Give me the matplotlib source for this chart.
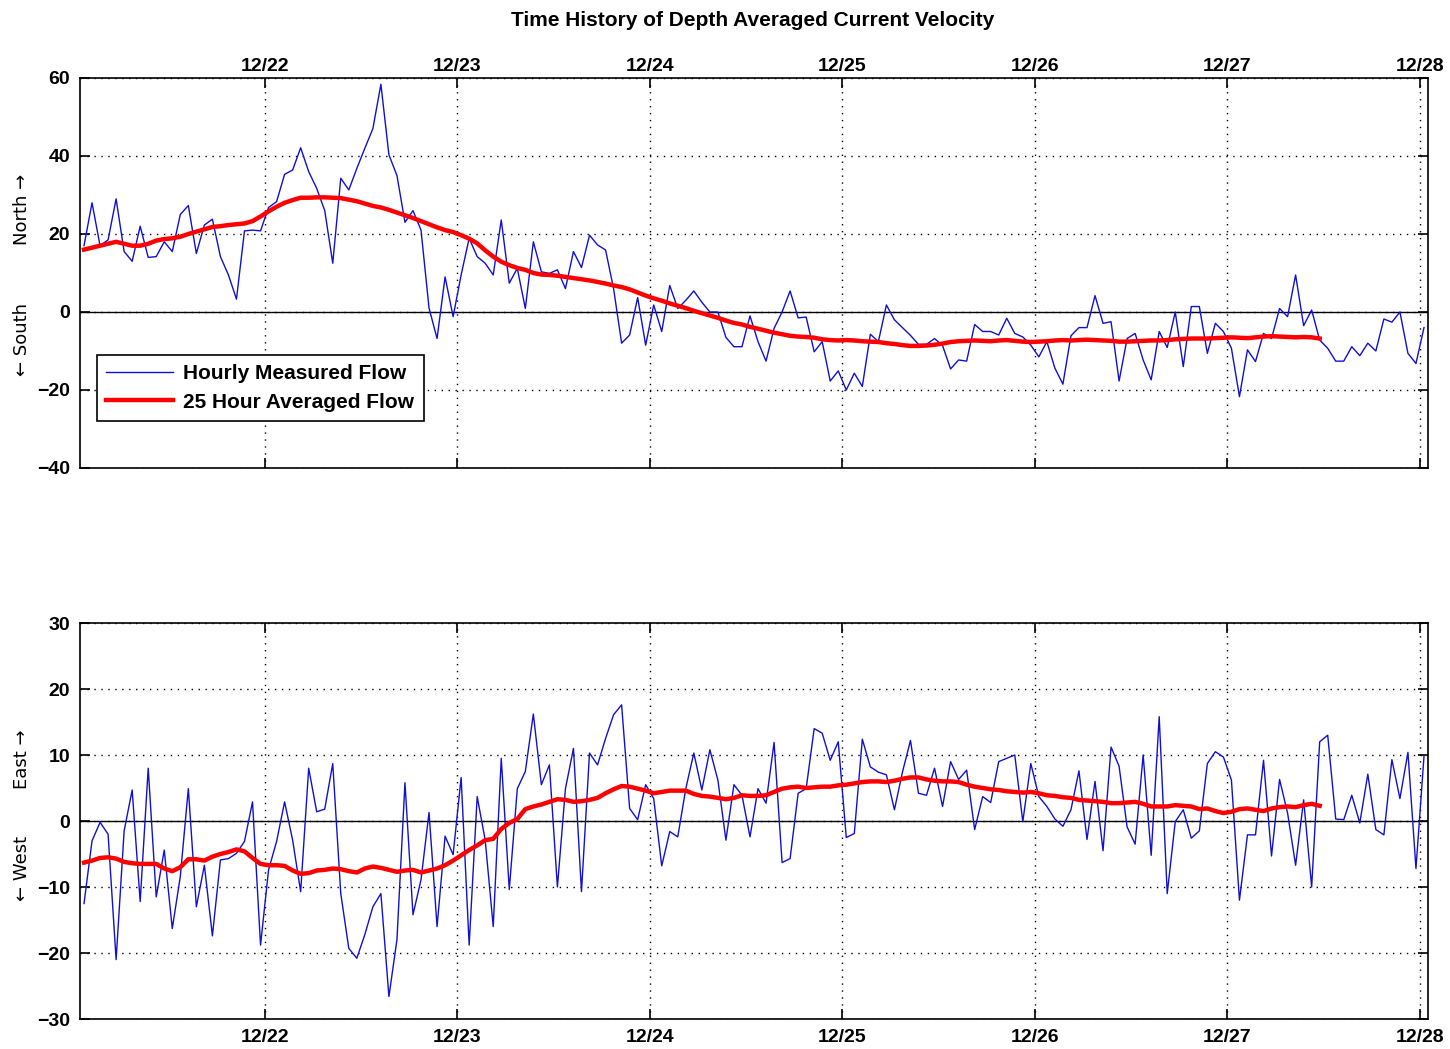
import pandas as pd
import numpy as np
import matplotlib
matplotlib.use('Agg')
import matplotlib.pyplot as plt
import matplotlib.dates as mdates

plt.rcParams['font.family'] = ['Liberation Sans', 'DejaVu Sans']

# ---------------- data: hourly depth averaged current (cm/s) ----------------
start = '2010-12-21 01:30'

# north (+) / south (-) component, hourly
north_hourly = [17, 28, 17, 18.5, 29, 15.5, 13, 22, 14, 14.2,
                18, 15.5, 25, 27.3, 15, 22.3, 23.8, 14.2, 9.5, 3.3,
                20.8, 21, 20.8, 26.8, 28.3, 35.3, 36.4, 42.1,
                36, 31.7, 26, 12.5, 34.3, 31.3, 36.8, 42, 47, 58.4,
                40.3, 35, 23, 26, 21, 1, -6.8, 9, -1.2, 9.5,
                18.9, 14.2, 12.5, 9.5, 23.6, 7.4, 11.2, 0.9,
                18, 10.3, 9.9, 10.8, 6, 15.5, 11.4, 19.7, 17.2, 15.9,
                6, -8, -5.9, 3.7, -8.5, 1.8, -5, 6.8, 0.9, 3,
                5.4, 2.5, 0, 0, -6.5, -8.9, -8.9, -1,
                -7.6, -12.6, -4.2, 0, 5.4, -1.5, -1.3, -10.2, -7.6, -17.7,
                -15.1, -20, -15.7, -19.1, -5.7, -7.6, 1.8, -2, -4, -6,
                -8.3, -8.3, -6.8, -8.6, -14.6, -12.3, -12.6, -3.2,
                -5, -5, -5.9, -1.6, -5.5, -6.4, -8.5, -11.5, -7.6, -14.4,
                -18.5, -6.1, -4, -4, 4.2, -2.9, -2.5, -17.7, -6.8, -5.5,
                -12.3, -17.4, -5, -9.1, 0, -14, 1.4, 1.4,
                -10.6, -2.9, -5, -9.3, -21.7, -9.7, -12.7, -5.5, -6.8, 0.9,
                -1.2, 9.5, -3.5, 0.5, -7.2, -9.3, -12.6, -12.6, -8.9, -11.2,
                -8, -10, -1.8, -2.6, 0, -10.6, -13.2, -4]

# 25 hour running mean of the north component
north_avg = [16.0, 16.5, 17.0, 17.5, 18.0, 17.5, 17.0, 17.0, 17.5, 18.3,
             18.7, 18.9, 19.3, 20.0, 20.6, 21.2, 21.8, 22.0, 22.3, 22.5,
             22.7, 23.3, 24.5, 25.8, 27.0, 28.0, 28.7, 29.3,
             29.3, 29.4, 29.4, 29.3, 29.2, 28.8, 28.4, 27.8, 27.2, 26.8,
             26.2, 25.5, 24.8, 24.1, 23.3, 22.5, 21.7, 21.0, 20.5, 19.7,
             18.8, 17.6, 15.8, 14.2, 12.9, 12.0, 11.3, 10.8,
             10.0, 9.6, 9.5, 9.3, 9.0, 8.7, 8.4, 8.1, 7.7, 7.3,
             6.8, 6.4, 5.8, 5.0, 4.2, 3.5, 2.9, 2.2, 1.6, 1.0,
             0.3, -0.3, -0.9, -1.5, -2.2, -2.8, -3.2, -3.8,
             -4.3, -4.8, -5.3, -5.7, -6.1, -6.3, -6.4, -6.6, -7.0, -7.2,
             -7.3, -7.2, -7.3, -7.5, -7.6, -7.7, -8.0, -8.2, -8.5, -8.7,
             -8.7, -8.6, -8.4, -8.1, -7.7, -7.5, -7.4, -7.3,
             -7.4, -7.5, -7.3, -7.2, -7.4, -7.6, -7.7, -7.6, -7.5, -7.3,
             -7.2, -7.3, -7.2, -7.1, -7.2, -7.3, -7.4, -7.6, -7.6, -7.5,
             -7.4, -7.3, -7.3, -7.2, -7.0, -6.9, -6.8, -6.8,
             -6.8, -6.7, -6.6, -6.5, -6.6, -6.7, -6.5, -6.3, -6.2, -6.3,
             -6.4, -6.5, -6.4, -6.5, -6.8]

# east (+) / west (-) component, hourly
east_hourly = [-12.5, -3, -0.2, -2, -21, -1.5, 4.7, -12.2, 8, -11.5,
               -4.4, -16.3, -8.4, 4.9, -13, -6.7, -17.4, -5.9, -5.7, -4.9,
               -3.1, 2.9, -18.8, -7.4, -3.1, 2.9, -2.9, -10.7,
               8, 1.4, 1.8, 8.7, -11, -19.3, -20.8, -17.2, -13, -11,
               -26.6, -18, 5.8, -14.2, -8.9, 1.3, -16, -2.3, -5.1, 6.6,
               -18.8, 3.7, -2.9, -16, 9.5, -10.4, 4.9, 7.5,
               16.2, 5.5, 8.5, -10, 4.9, 11, -10.7, 10.3, 8.5, 12.5,
               16.1, 17.6, 1.9, 0.2, 5.5, 3.4, -6.8, -1.6, -2.4, 4.9,
               10.3, 4.7, 10.8, 6.2, -2.9, 5.5, 3.9, -2.4,
               4.9, 2.7, 11.9, -6.3, -5.7, 4.2, 4.9, 14, 13.3, 9.2,
               12, -2.5, -1.9, 12.4, 8.2, 7.4, 7, 1.7, 7.4, 12.2,
               4.2, 3.9, 8, 2.2, 9, 6.3, 7.7, -1.3,
               3.7, 2.8, 9, 9.5, 10, -0.1, 8.7, 3.7, 2.2, 0.3,
               -0.8, 1.7, 7.6, -2.8, 6, -4.5, 11.2, 8.3, -0.9, -3.5,
               10, -5.2, 15.8, -11, -0.1, 1.7, -2.6, -1.5,
               8.7, 10.5, 9.7, 6.2, -12, -2.1, -2.1, 9.2, -5.3, 6.3,
               1.2, -6.7, 3.2, -10, 12, 13, 0.3, 0.2, 3.9, -0.3,
               7.1, -1.3, -2.1, 9.3, 3.4, 10.4, -7.2, 9.8]

east_avg = [-6.3, -6.0, -5.6, -5.5, -5.7, -6.2, -6.4, -6.5, -6.5, -6.5,
            -7.2, -7.6, -7.0, -5.8, -5.8, -6.0, -5.4, -5.0, -4.7, -4.3,
            -4.6, -5.6, -6.5, -6.7, -6.7, -6.8, -7.5, -8.0,
            -7.9, -7.5, -7.4, -7.2, -7.3, -7.6, -7.8, -7.2, -6.9, -7.1,
            -7.4, -7.7, -7.5, -7.4, -7.8, -7.5, -7.2, -6.7, -6.0, -5.2,
            -4.4, -3.7, -2.9, -2.7, -1.2, -0.3, 0.3, 1.8,
            2.2, 2.5, 2.9, 3.3, 3.2, 2.9, 3.0, 3.2, 3.5, 4.2,
            4.8, 5.3, 5.2, 4.9, 4.6, 4.2, 4.4, 4.6, 4.6, 4.6,
            4.1, 3.8, 3.7, 3.5, 3.3, 3.5, 3.9, 3.8,
            3.8, 3.9, 4.4, 4.9, 5.1, 5.2, 5.0, 5.1, 5.2, 5.2,
            5.4, 5.5, 5.7, 5.9, 6.0, 6.0, 5.9, 6.1, 6.4, 6.6,
            6.6, 6.3, 6.1, 6.0, 6.0, 5.9, 5.5, 5.2,
            5.0, 4.8, 4.7, 4.5, 4.4, 4.3, 4.4, 4.2, 3.9, 3.8,
            3.6, 3.5, 3.2, 3.1, 3.0, 2.9, 2.7, 2.7, 2.8, 2.9,
            2.6, 2.2, 2.2, 2.2, 2.4, 2.3, 2.2, 1.8,
            1.9, 1.5, 1.2, 1.4, 1.8, 1.9, 1.7, 1.5, 1.9, 2.1,
            2.2, 2.1, 2.4, 2.6, 2.3]

t_hourly = pd.date_range(start, periods=len(north_hourly), freq='h')
t_avg = t_hourly[:len(north_avg)]

xmin = pd.Timestamp('2010-12-21 01:00')
xmax = pd.Timestamp('2010-12-28 01:00')


def style_axes(ax, ylim, yticks, top_labels):
    ax.set_xlim(xmin, xmax)
    ax.set_ylim(*ylim)
    ax.set_yticks(yticks)
    ax.xaxis.set_major_locator(mdates.DayLocator())
    ax.xaxis.set_major_formatter(mdates.DateFormatter('%m/%d'))
    ax.grid(True, color='black', linestyle=(0, (1, 4)), linewidth=1.0)
    ax.axhline(0, color='black', linewidth=1.0, zorder=1)
    ax.tick_params(direction='in', length=7, width=1.2, top=True, right=True,
                   labeltop=top_labels, labelbottom=not top_labels, pad=7)
    if top_labels:
        ax.tick_params(axis='x', pad=2)
    for lab in ax.get_xticklabels() + ax.get_yticklabels():
        lab.set_fontsize(14)
        lab.set_fontweight('bold')
    for sp in ax.spines.values():
        sp.set_linewidth(1.2)


def side_label(ax, y, s):
    ax.text(-0.043, y, s, transform=ax.transAxes, rotation=90,
            ha='center', va='center', fontsize=13, family='DejaVu Sans')


fig = plt.figure(figsize=(14.5, 10.49), dpi=100)

# ---- north / south ----
ax1 = fig.add_axes([80 / 1450, 1 - 468 / 1049, 1348 / 1450, 390 / 1049])
ax1.plot(t_hourly, north_hourly, color='#1010d0', linewidth=1.0,
         label='Hourly Measured Flow', zorder=3)
ax1.plot(t_avg, north_avg, color='#ff0000', linewidth=3.2,
         label='25 Hour Averaged Flow', zorder=4)
style_axes(ax1, (-40, 60), np.arange(-40, 61, 20), True)
leg = ax1.legend(loc='upper left', bbox_to_anchor=(0.0126, 0.29),
                 borderaxespad=0, fancybox=False, edgecolor='black',
                 framealpha=1, handlelength=3.2, handletextpad=0.5,
                 borderpad=0.45, labelspacing=0.45,
                 prop=dict(size=15, weight='bold'))
leg.get_frame().set_linewidth(1.2)
side_label(ax1, 0.662, 'North \u2192')
side_label(ax1, 0.33, '\u2190 South')

fig.text(753 / 1450, 1 - 20 / 1049, 'Time History of Depth Averaged Current Velocity',
         ha='center', va='center', fontsize=15, fontweight='bold')

# ---- east / west ----
ax2 = fig.add_axes([80 / 1450, 1 - 1019 / 1049, 1348 / 1450, 396 / 1049])
ax2.plot(t_hourly, east_hourly, color='#1010d0', linewidth=1.0, zorder=3)
ax2.plot(t_avg, east_avg, color='#ff0000', linewidth=3.2, zorder=4)
style_axes(ax2, (-30, 30), np.arange(-30, 31, 10), False)
side_label(ax2, 0.655, 'East \u2192')
side_label(ax2, 0.38, '\u2190 West')

plt.savefig('out.png', dpi=100)
